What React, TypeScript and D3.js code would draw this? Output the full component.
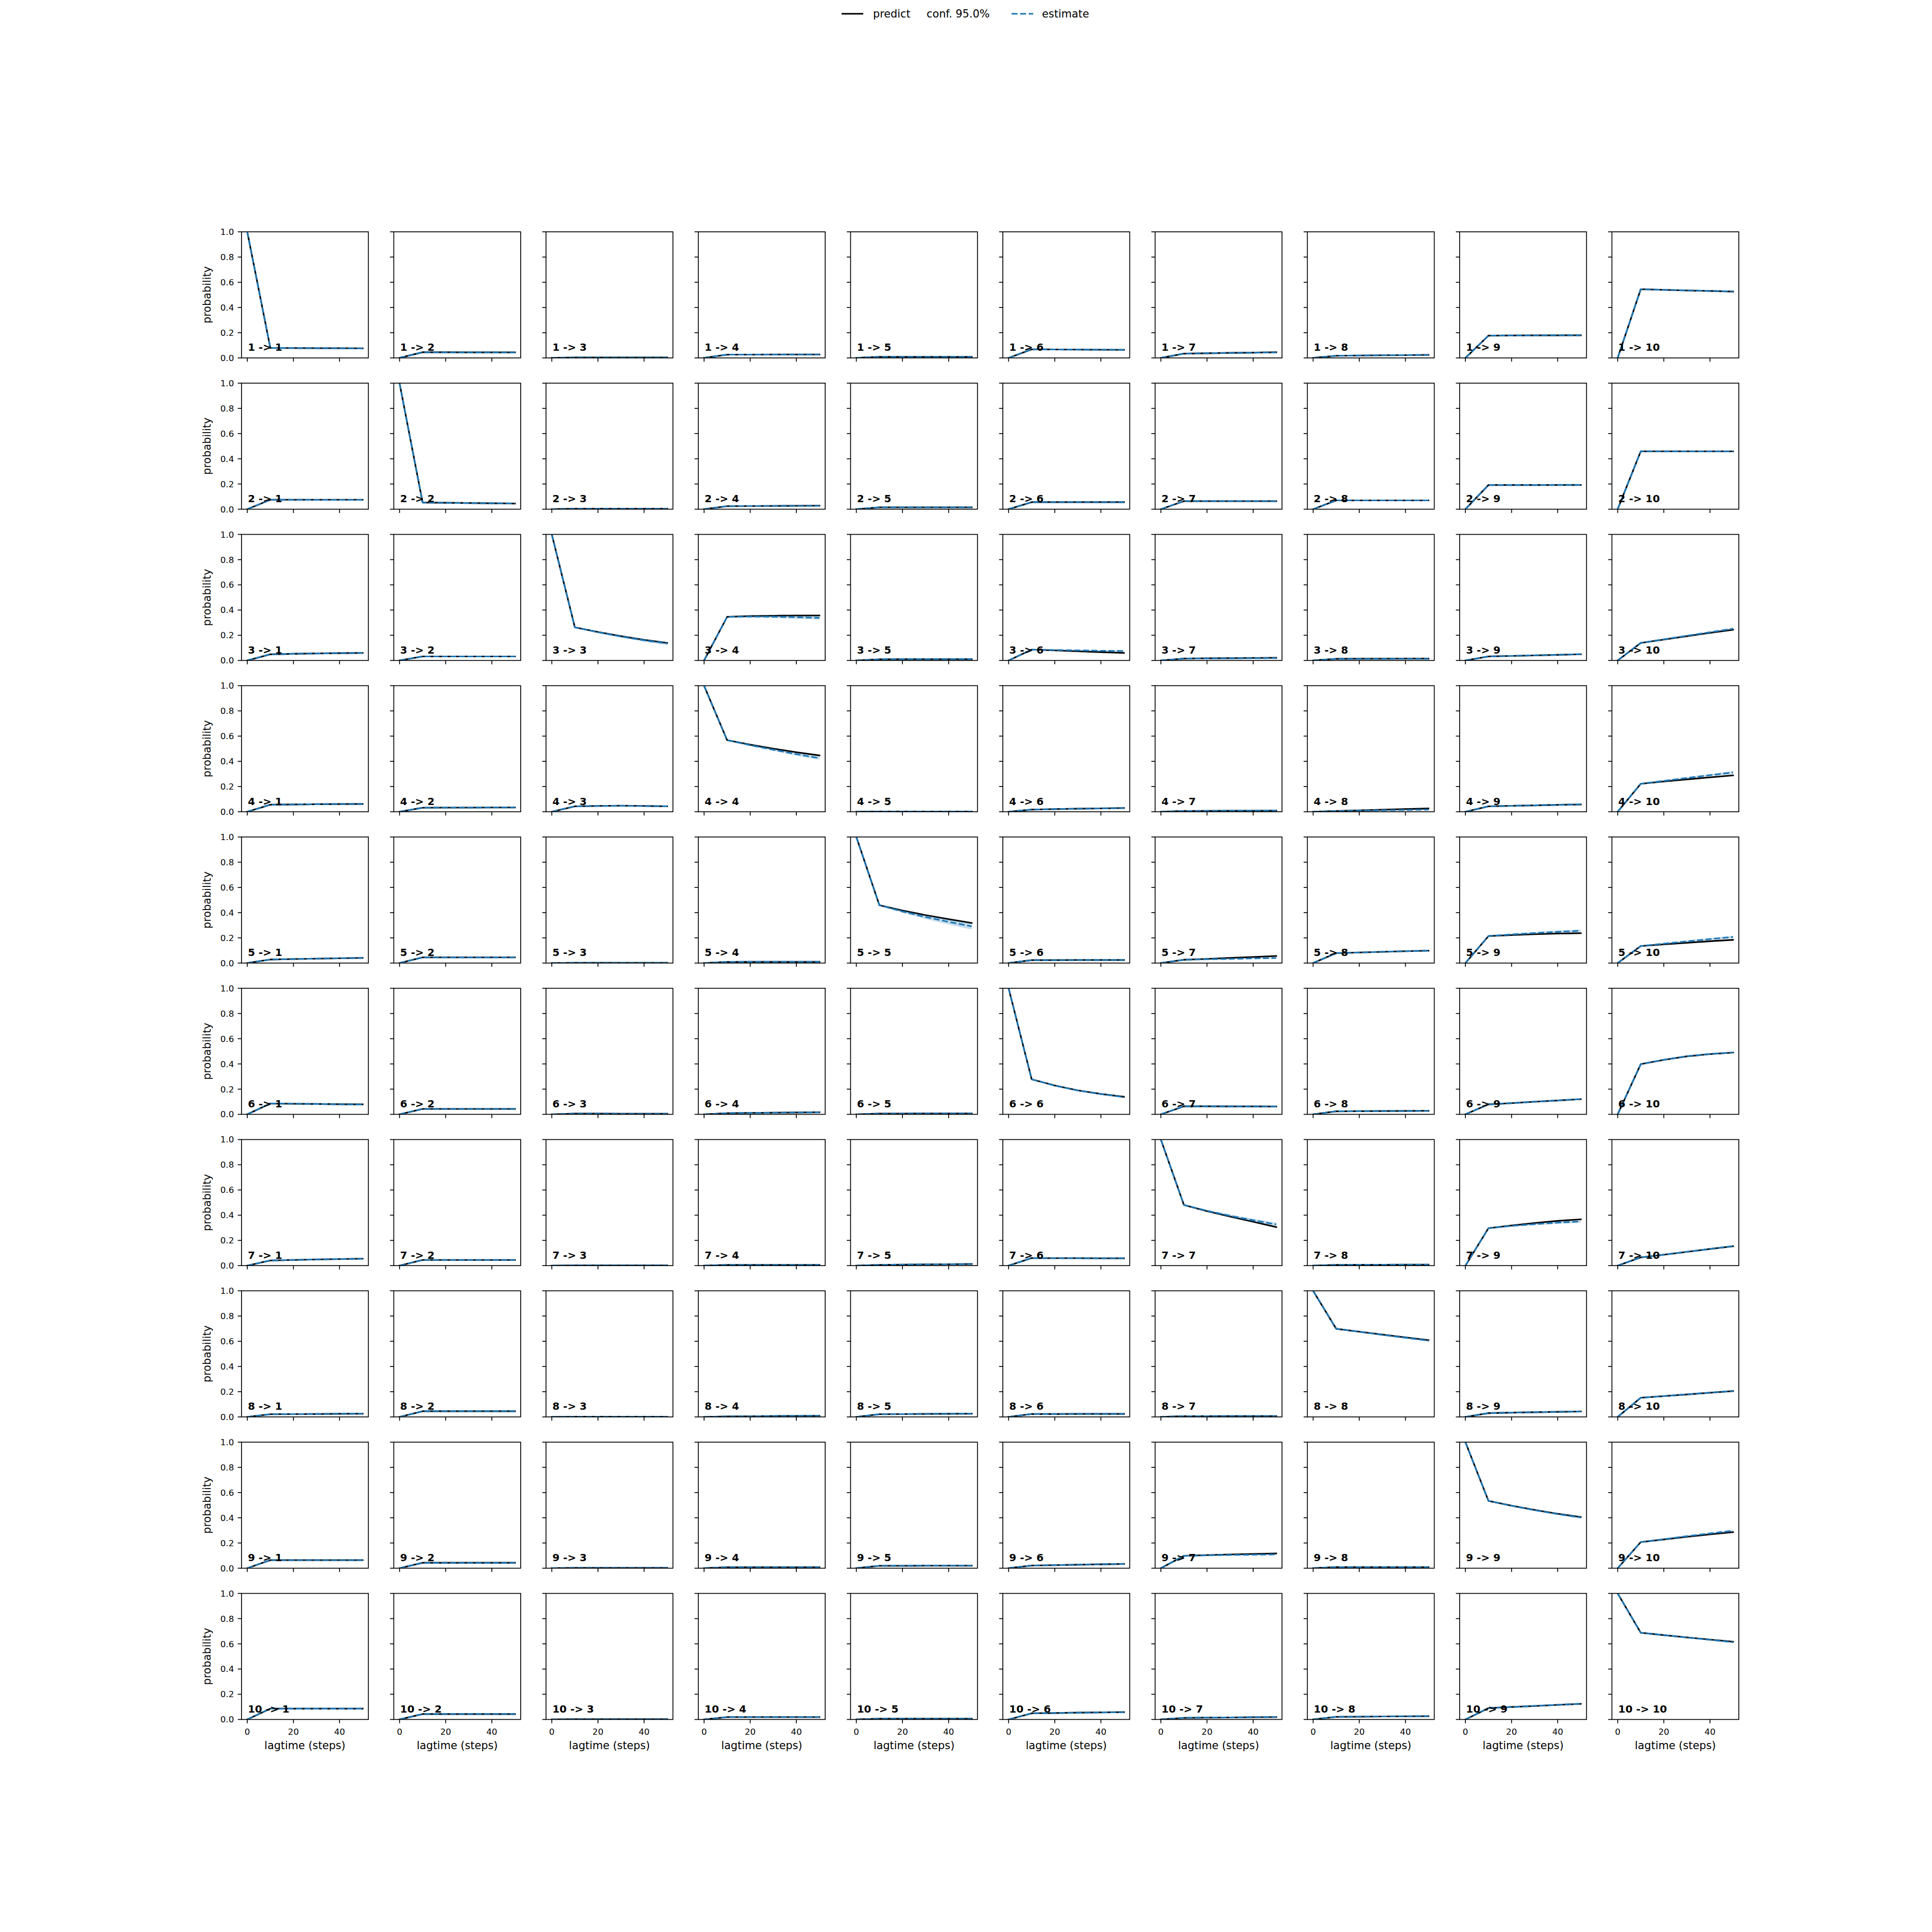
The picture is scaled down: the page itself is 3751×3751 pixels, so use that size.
import React from 'react';
import * as d3 from 'd3';

// ---------- data ----------
const states = ['1', '2', '3', '4', '5', '6', '7', '8', '9', '10'];
const lags = [0, 10, 20, 30, 40, 50];
const xTicks = [0, 20, 40];
const yTicks = [0, 0.2, 0.4, 0.6, 0.8, 1.0];
const legendLabels = ['predict', 'conf. 95.0%', 'estimate'];

// predictions (MSM at base lag propagated), one series per target state
const predict1 = [
  [1, .079, .078, .077, .077, .076], [0, .045, .045, .044, .044, .044], [0, .003, .003, .003, .003, .003],
  [0, .026, .026, .027, .027, .027], [0, .008, .008, .008, .008, .008], [0, .068, .067, .066, .065, .064],
  [0, .034, .037, .040, .042, .045], [0, .017, .019, .021, .022, .024], [0, .177, .178, .179, .179, .180],
  [0, .545, .540, .535, .531, .526],
];
const predict2 = [
  [0, .075, .075, .075, .075, .075], [1, .053, .051, .049, .047, .045], [0, .004, .004, .004, .004, .004],
  [0, .024, .025, .026, .027, .028], [0, .015, .015, .015, .015, .015], [0, .056, .056, .056, .056, .056],
  [0, .064, .064, .064, .064, .064], [0, .070, .070, .070, .070, .070], [0, .192, .192, .192, .192, .192],
  [0, .459, .459, .459, .459, .459],
];
const predict3 = [
  [0, .049, .053, .056, .058, .060], [0, .032, .032, .032, .032, .032], [1, .263, .226, .193, .164, .139],
  [0, .346, .352, .355, .357, .357], [0, .009, .010, .010, .010, .010], [0, .086, .080, .073, .066, .060],
  [0, .015, .017, .018, .020, .021], [0, .013, .014, .014, .015, .015], [0, .032, .036, .040, .045, .049],
  [0, .139, .166, .193, .219, .244],
];
const predict4 = [
  [0, .056, .058, .060, .061, .062], [0, .032, .033, .033, .034, .034], [0, .043, .046, .048, .046, .043],
  [1, .568, .532, .501, .472, .447], [0, .002, .002, .002, .002, .002], [0, .017, .021, .024, .027, .030],
  [0, .006, .007, .008, .008, .009], [0, .006, .011, .016, .021, .026], [0, .043, .047, .051, .055, .058],
  [0, .222, .240, .257, .273, .289],
];
const predict5 = [
  [0, .028, .032, .035, .038, .041], [0, .045, .045, .045, .045, .045], [0, .002, .002, .002, .002, .002],
  [0, .009, .010, .010, .010, .010], [1, .459, .417, .380, .348, .318], [0, .023, .023, .024, .024, .024],
  [0, .026, .033, .041, .048, .056], [0, .079, .084, .089, .094, .098], [0, .214, .222, .229, .234, .237],
  [0, .135, .148, .161, .173, .184],
];
const predict6 = [
  [0, .086, .084, .082, .080, .079], [0, .043, .043, .043, .043, .043], [0, .006, .006, .005, .005, .005],
  [0, .009, .011, .013, .015, .017], [0, .006, .006, .007, .007, .007], [1, .278, .229, .190, .162, .139],
  [0, .064, .064, .063, .063, .062], [0, .024, .025, .026, .027, .028], [0, .079, .089, .100, .110, .120],
  [0, .398, .432, .460, .478, .490],
];
const predict7 = [
  [0, .041, .045, .049, .052, .055], [0, .045, .045, .045, .045, .045], [0, .002, .002, .002, .002, .002],
  [0, .006, .006, .006, .006, .006], [0, .006, .008, .010, .011, .013], [0, .060, .059, .059, .058, .058],
  [1, .481, .432, .389, .348, .306], [0, .006, .007, .007, .008, .008], [0, .297, .318, .338, .355, .367],
  [0, .065, .087, .109, .132, .154],
];
const predict8 = [
  [0, .021, .022, .023, .025, .026], [0, .045, .045, .045, .045, .045], [0, .002, .002, .002, .002, .002],
  [0, .004, .005, .007, .008, .009], [0, .021, .022, .024, .025, .026], [0, .023, .023, .024, .024, .024],
  [0, .006, .006, .007, .007, .007], [1, .699, .676, .653, .631, .609], [0, .030, .034, .037, .040, .043],
  [0, .152, .165, .178, .192, .205],
];
const predict9 = [
  [0, .064, .064, .064, .064, .064], [0, .043, .043, .043, .043, .043], [0, .002, .002, .002, .002, .002],
  [0, .008, .008, .008, .008, .008], [0, .019, .019, .020, .020, .020], [0, .021, .024, .028, .031, .034],
  [0, .098, .104, .109, .113, .117], [0, .009, .009, .009, .009, .009], [1, .534, .496, .462, .432, .406],
  [0, .207, .228, .249, .268, .286],
];
const predict10 = [
  [0, .086, .086, .086, .086, .086], [0, .043, .043, .043, .043, .043], [0, .002, .002, .002, .002, .002],
  [0, .019, .019, .019, .019, .019], [0, .006, .006, .006, .006, .006], [0, .049, .051, .054, .056, .058],
  [0, .013, .015, .016, .018, .019], [0, .021, .022, .024, .025, .026], [0, .090, .099, .107, .116, .124],
  [1, .688, .669, .651, .634, .617],
];

// estimates (MSMs estimated at each lag)
const estimate1 = [
  [1, .079, .078, .077, .076, .075], [0, .045, .044, .044, .044, .043], [0, .003, .003, .003, .003, .003],
  [0, .026, .026, .026, .027, .027], [0, .008, .008, .008, .008, .008], [0, .068, .067, .066, .065, .064],
  [0, .034, .037, .039, .042, .044], [0, .017, .019, .021, .022, .023], [0, .177, .178, .178, .179, .179],
  [0, .545, .540, .536, .531, .527],
];
const estimate2 = [
  [0, .075, .075, .074, .074, .074], [1, .053, .051, .049, .047, .045], [0, .004, .004, .004, .004, .004],
  [0, .024, .025, .026, .027, .027], [0, .015, .015, .015, .015, .015], [0, .056, .056, .056, .055, .055],
  [0, .064, .064, .064, .064, .063], [0, .070, .070, .070, .070, .070], [0, .192, .192, .192, .193, .193],
  [0, .459, .459, .458, .458, .458],
];
const estimate3 = [
  [0, .049, .053, .056, .058, .060], [0, .032, .032, .032, .032, .032], [1, .263, .224, .190, .160, .135],
  [0, .346, .348, .347, .343, .338], [0, .009, .010, .010, .010, .010], [0, .086, .083, .080, .077, .075],
  [0, .015, .016, .017, .018, .019], [0, .013, .013, .014, .014, .014], [0, .032, .036, .041, .045, .050],
  [0, .139, .168, .196, .224, .252],
];
const estimate4 = [
  [0, .056, .058, .060, .061, .062], [0, .032, .033, .033, .034, .034], [0, .043, .046, .047, .046, .043],
  [1, .568, .528, .492, .457, .425], [0, .002, .002, .002, .002, .002], [0, .017, .021, .024, .027, .030],
  [0, .006, .007, .008, .008, .009], [0, .006, .009, .012, .014, .017], [0, .043, .047, .051, .055, .059],
  [0, .222, .245, .268, .290, .312],
];
const estimate5 = [
  [0, .028, .032, .035, .038, .041], [0, .045, .045, .045, .045, .045], [0, .002, .002, .002, .002, .002],
  [0, .009, .010, .010, .010, .010], [1, .459, .409, .365, .327, .291], [0, .023, .023, .024, .024, .024],
  [0, .026, .030, .033, .037, .040], [0, .079, .084, .089, .094, .099], [0, .214, .227, .238, .248, .256],
  [0, .135, .154, .172, .190, .207],
];
const estimate6 = [
  [0, .086, .084, .082, .080, .078], [0, .043, .043, .043, .043, .043], [0, .006, .006, .005, .005, .005],
  [0, .009, .011, .013, .015, .016], [0, .006, .006, .007, .007, .007], [1, .278, .228, .189, .161, .137],
  [0, .064, .064, .063, .063, .062], [0, .024, .025, .026, .027, .028], [0, .079, .089, .100, .110, .121],
  [0, .398, .433, .461, .479, .491],
];
const estimate7 = [
  [0, .041, .045, .049, .052, .055], [0, .045, .045, .045, .045, .045], [0, .002, .002, .002, .002, .002],
  [0, .006, .006, .006, .006, .006], [0, .006, .008, .010, .011, .013], [0, .060, .059, .059, .058, .058],
  [1, .481, .435, .395, .360, .327], [0, .006, .007, .007, .008, .008], [0, .297, .315, .329, .341, .350],
  [0, .065, .087, .110, .132, .155],
];
const estimate8 = [
  [0, .021, .022, .023, .025, .026], [0, .045, .045, .045, .045, .045], [0, .002, .002, .002, .002, .002],
  [0, .004, .005, .007, .008, .009], [0, .021, .022, .024, .025, .026], [0, .023, .023, .024, .024, .024],
  [0, .006, .006, .007, .007, .007], [1, .699, .675, .651, .628, .605], [0, .030, .034, .037, .040, .043],
  [0, .152, .165, .179, .193, .206],
];
const estimate9 = [
  [0, .064, .064, .064, .064, .064], [0, .043, .043, .043, .043, .043], [0, .002, .002, .002, .002, .002],
  [0, .008, .008, .008, .008, .008], [0, .019, .019, .020, .020, .020], [0, .021, .024, .028, .031, .034],
  [0, .098, .102, .105, .107, .109], [0, .009, .009, .009, .009, .009], [1, .534, .495, .460, .429, .402],
  [0, .207, .230, .254, .276, .297],
];
const estimate10 = [
  [0, .086, .086, .086, .086, .086], [0, .043, .043, .043, .043, .043], [0, .002, .002, .002, .002, .002],
  [0, .019, .019, .019, .019, .019], [0, .006, .006, .006, .006, .006], [0, .049, .051, .054, .056, .058],
  [0, .013, .015, .016, .018, .019], [0, .021, .022, .024, .025, .026], [0, .090, .099, .108, .116, .125],
  [1, .688, .669, .650, .632, .613],
];

// half-width of the 95% confidence band of the estimates
const nb = [0, .002, .003, .004, .004, .005];
const conf1 = [nb, nb, nb, nb, nb, nb, nb, nb, nb, nb];
const conf2 = [nb, nb, nb, nb, nb, nb, nb, nb, nb, nb];
const conf3 = [nb, nb, [0, .004, .007, .009, .011, .012], [0, .004, .008, .010, .012, .013], nb, [0, .003, .004, .005, .006, .006], nb, nb, nb, [0, .003, .005, .006, .007, .008]];
const conf4 = [nb, nb, nb, [0, .004, .007, .009, .011, .012], nb, nb, nb, nb, nb, [0, .004, .006, .008, .010, .012]];
const conf5 = [nb, nb, nb, nb, [0, .005, .011, .016, .021, .025], nb, nb, nb, [0, .004, .006, .008, .009, .010], [0, .004, .006, .008, .009, .010]];
const conf6 = [nb, nb, nb, nb, nb, [0, .003, .005, .006, .007, .008], nb, nb, nb, nb];
const conf7 = [nb, nb, nb, nb, nb, nb, [0, .004, .007, .010, .012, .014], nb, [0, .004, .006, .008, .009, .010], nb];
const conf8 = [nb, nb, nb, nb, nb, nb, nb, [0, .003, .005, .007, .008, .009], nb, nb];
const conf9 = [nb, nb, nb, nb, nb, nb, nb, nb, [0, .003, .005, .006, .007, .008], [0, .003, .005, .006, .007, .008]];
const conf10 = [nb, nb, nb, nb, nb, nb, nb, nb, nb, [0, .003, .004, .005, .006, .007]];

const predictRows = [predict1, predict2, predict3, predict4, predict5, predict6, predict7, predict8, predict9, predict10];
const estimateRows = [estimate1, estimate2, estimate3, estimate4, estimate5, estimate6, estimate7, estimate8, estimate9, estimate10];
const confRows = [conf1, conf2, conf3, conf4, conf5, conf6, conf7, conf8, conf9, conf10];

// ---------- layout ----------
const W = 3751;
const H = 3751;
const FONT = "'DejaVu Sans', sans-serif";
const BLUE = '#1f77b4';
const LW = 3.125; // 1.5pt at 150 dpi
const SPINE = 1.67;
const TICK = 7.3;

export default function App() {
  const n = states.length;
  const left = 0.125 * W;
  const right = 0.9 * W;
  const top = 0.12 * H;
  const bottom = 0.89 * H;
  const pw = (right - left) / (n + (n - 1) * 0.2);
  const ph = (bottom - top) / (n + (n - 1) * 0.2);

  const x = d3.scaleLinear().domain([-2.5, 52.5]).range([0, pw]);
  const y = d3.scaleLinear().domain([0, 1]).range([ph, 0]);

  const line = d3.line<number>().x((_, i) => x(lags[i])).y((d) => y(d));

  const panels: React.ReactNode[] = [];
  for (let r = 0; r < n; r++) {
    for (let c = 0; c < n; c++) {
      const ox = left + c * pw * 1.2;
      const oy = top + r * ph * 1.2;
      const pred = predictRows[r][c];
      const est = estimateRows[r][c];
      const cf = confRows[r][c];
      const area = d3
        .area<number>()
        .x((_, i) => x(lags[i]))
        .y0((d, i) => y(d - cf[i]))
        .y1((d, i) => y(d + cf[i]));
      const clipId = `clip-${r}-${c}`;
      panels.push(
        <g key={clipId} transform={`translate(${ox},${oy})`}>
          <defs>
            <clipPath id={clipId}>
              <rect x={0} y={0} width={pw} height={ph} />
            </clipPath>
          </defs>
          <g clipPath={`url(#${clipId})`}>
            <path d={line(pred) || ''} fill="none" stroke="#000" strokeWidth={LW} strokeLinejoin="round" strokeLinecap="square" />
            <path d={area(est) || ''} fill={BLUE} fillOpacity={0.25} stroke="none" />
            <path d={line(est) || ''} fill="none" stroke={BLUE} strokeWidth={LW} strokeDasharray="11.56,5" strokeLinejoin="round" />
          </g>
          <rect x={0} y={0} width={pw} height={ph} fill="none" stroke="#000" strokeWidth={SPINE} />
          {yTicks.map((t) => (
            <line key={`yt${t}`} x1={-TICK} x2={0} y1={y(t)} y2={y(t)} stroke="#000" strokeWidth={SPINE} />
          ))}
          {xTicks.map((t) => (
            <line key={`xt${t}`} x1={x(t)} x2={x(t)} y1={ph} y2={ph + TICK} stroke="#000" strokeWidth={SPINE} />
          ))}
          {c === 0 &&
            yTicks.map((t) => (
              <text key={`yl${t}`} x={-TICK - 7.3} y={y(t) + 6} textAnchor="end" fontSize={16.7} fontFamily={FONT}>
                {t.toFixed(1)}
              </text>
            ))}
          {c === 0 && (
            <text
              transform={`translate(${-60},${ph / 2}) rotate(-90)`}
              textAnchor="middle"
              fontSize={20.8}
              fontFamily={FONT}
            >
              probability
            </text>
          )}
          {r === n - 1 &&
            xTicks.map((t) => (
              <text key={`xl${t}`} x={x(t)} y={ph + 30} textAnchor="middle" fontSize={16.7} fontFamily={FONT}>
                {t}
              </text>
            ))}
          {r === n - 1 && (
            <text x={pw / 2} y={ph + 57.6} textAnchor="middle" fontSize={20.8} fontFamily={FONT}>
              lagtime (steps)
            </text>
          )}
          <text x={pw * 0.05} y={ph * 0.945} fontSize={20} fontWeight="bold" fontFamily={FONT}>
            {`${states[r]} -> ${states[c]}`}
          </text>
        </g>
      );
    }
  }

  return (
    <div style={{ position: 'absolute', left: 0, top: 0 }}>
      <svg width={W} height={H} viewBox={`0 0 ${W} ${H}`} style={{ display: 'block', background: '#fff' }}>
        <rect x={0} y={0} width={W} height={H} fill="#fff" />
        {/* legend */}
        <g fontFamily={FONT} fontSize={20.8}>
          <line x1={1634} x2={1676} y1={26.7} y2={26.7} stroke="#000" strokeWidth={LW} />
          <text x={1695} y={34.3}>{legendLabels[0]}</text>
          <text x={1799} y={34.3}>{legendLabels[1]}</text>
          <line x1={1964} x2={2006} y1={26.7} y2={26.7} stroke={BLUE} strokeWidth={LW} strokeDasharray="11.56,5" />
          <text x={2023} y={34.3}>{legendLabels[2]}</text>
        </g>
        {panels}
      </svg>
    </div>
  );
}
